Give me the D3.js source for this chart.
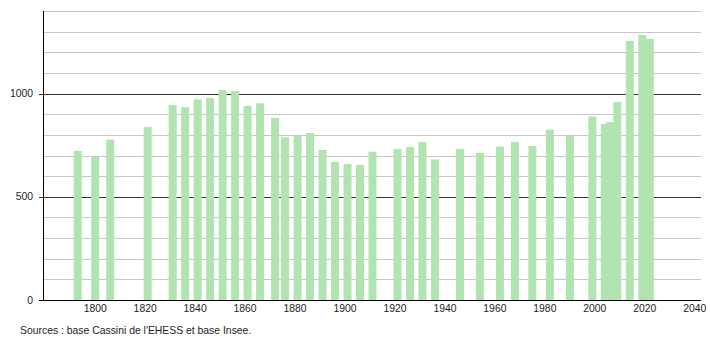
<!DOCTYPE html>
<html>
<head>
<meta charset="utf-8">
<script src="https://cdn.jsdelivr.net/npm/d3@7"></script>
<style>
  body { margin: 0; background: #fff; }
  text { font-family: "Liberation Sans", Arial, sans-serif; }
</style>
</head>
<body>
<svg id="chart" width="710" height="340"></svg>
<script>
// census years and population
const years = [1793, 1800, 1806, 1821, 1831, 1836, 1841, 1846, 1851, 1856,
  1861, 1866, 1872, 1876, 1881, 1886, 1891, 1896, 1901, 1906,
  1911, 1921, 1926, 1931, 1936, 1946, 1954, 1962, 1968, 1975,
  1982, 1990, 1999, 2004, 2006, 2009, 2014, 2019, 2022];
const population = [722, 694, 777, 838, 945, 934, 972, 979, 1017, 1012,
  940, 953, 882, 788, 796, 809, 727, 669, 659, 654,
  718, 732, 741, 766, 681, 732, 712, 743, 766, 746,
  825, 796, 889, 853, 862, 959, 1255, 1284, 1265];
const xTicks = [1800, 1820, 1840, 1860, 1880, 1900, 1920, 1940, 1960, 1980, 2000, 2020, 2040];
const yMajor = [0, 500, 1000];
const yMinor = [100, 200, 300, 400, 600, 700, 800, 900, 1100, 1200, 1300, 1400];
const source = "Sources : base Cassini de l'EHESS et base Insee.";

const data = years.map((yr, i) => ({ year: yr, value: population[i] }));

const svg = d3.select("#chart");
const mLeft = 44, mRight = 701, mTop = 11, mBottom = 300;

const x = d3.scaleLinear().domain([1779.5, 2042.5]).range([mLeft, mRight]);
const y = d3.scaleLinear().domain([0, 1400]).range([mBottom, mTop]);

// minor grid lines
svg.append("g").selectAll("line")
  .data(yMinor).enter().append("line")
  .attr("x1", mLeft - 1.5).attr("x2", mRight)
  .attr("y1", d => Math.round(y(d)) + 0.5).attr("y2", d => Math.round(y(d)) + 0.5)
  .attr("stroke", "#c8c8c8").attr("stroke-width", 1);

// major grid lines
svg.append("g").selectAll("line")
  .data(yMajor.filter(d => d > 0)).enter().append("line")
  .attr("x1", mLeft - 5).attr("x2", mRight)
  .attr("y1", d => Math.round(y(d)) + 0.5).attr("y2", d => Math.round(y(d)) + 0.5)
  .attr("stroke", "#333").attr("stroke-width", 1);

// bars
const barW = 8;
svg.append("g").selectAll("rect")
  .data(data).enter().append("rect")
  .attr("x", d => x(d.year) - barW / 2)
  .attr("y", d => y(d.value))
  .attr("width", barW)
  .attr("height", d => mBottom - y(d.value))
  .attr("fill", "#b1e4b1");

// axes lines
svg.append("line")
  .attr("x1", mLeft - 0.5).attr("x2", mLeft - 0.5)
  .attr("y1", mTop).attr("y2", mBottom + 0.5)
  .attr("stroke", "#000");
svg.append("line")
  .attr("x1", mLeft - 5).attr("x2", mRight)
  .attr("y1", mBottom + 0.5).attr("y2", mBottom + 0.5)
  .attr("stroke", "#000");

// y labels
svg.append("g").selectAll("text")
  .data(yMajor).enter().append("text")
  .attr("x", 33).attr("y", d => y(d) + 3.5)
  .attr("text-anchor", "end")
  .attr("font-size", 10.4)
  .attr("fill", "#222")
  .text(d => d);

// x labels
svg.append("g").selectAll("text")
  .data(xTicks).enter().append("text")
  .attr("x", d => x(d)).attr("y", 312)
  .attr("text-anchor", "middle")
  .attr("font-size", 10.4)
  .attr("fill", "#222")
  .text(d => d);

svg.append("text")
  .attr("x", 20).attr("y", 333.5)
  .attr("font-size", 10.4)
  .attr("fill", "#222")
  .text(source);
</script>
</body>
</html>
